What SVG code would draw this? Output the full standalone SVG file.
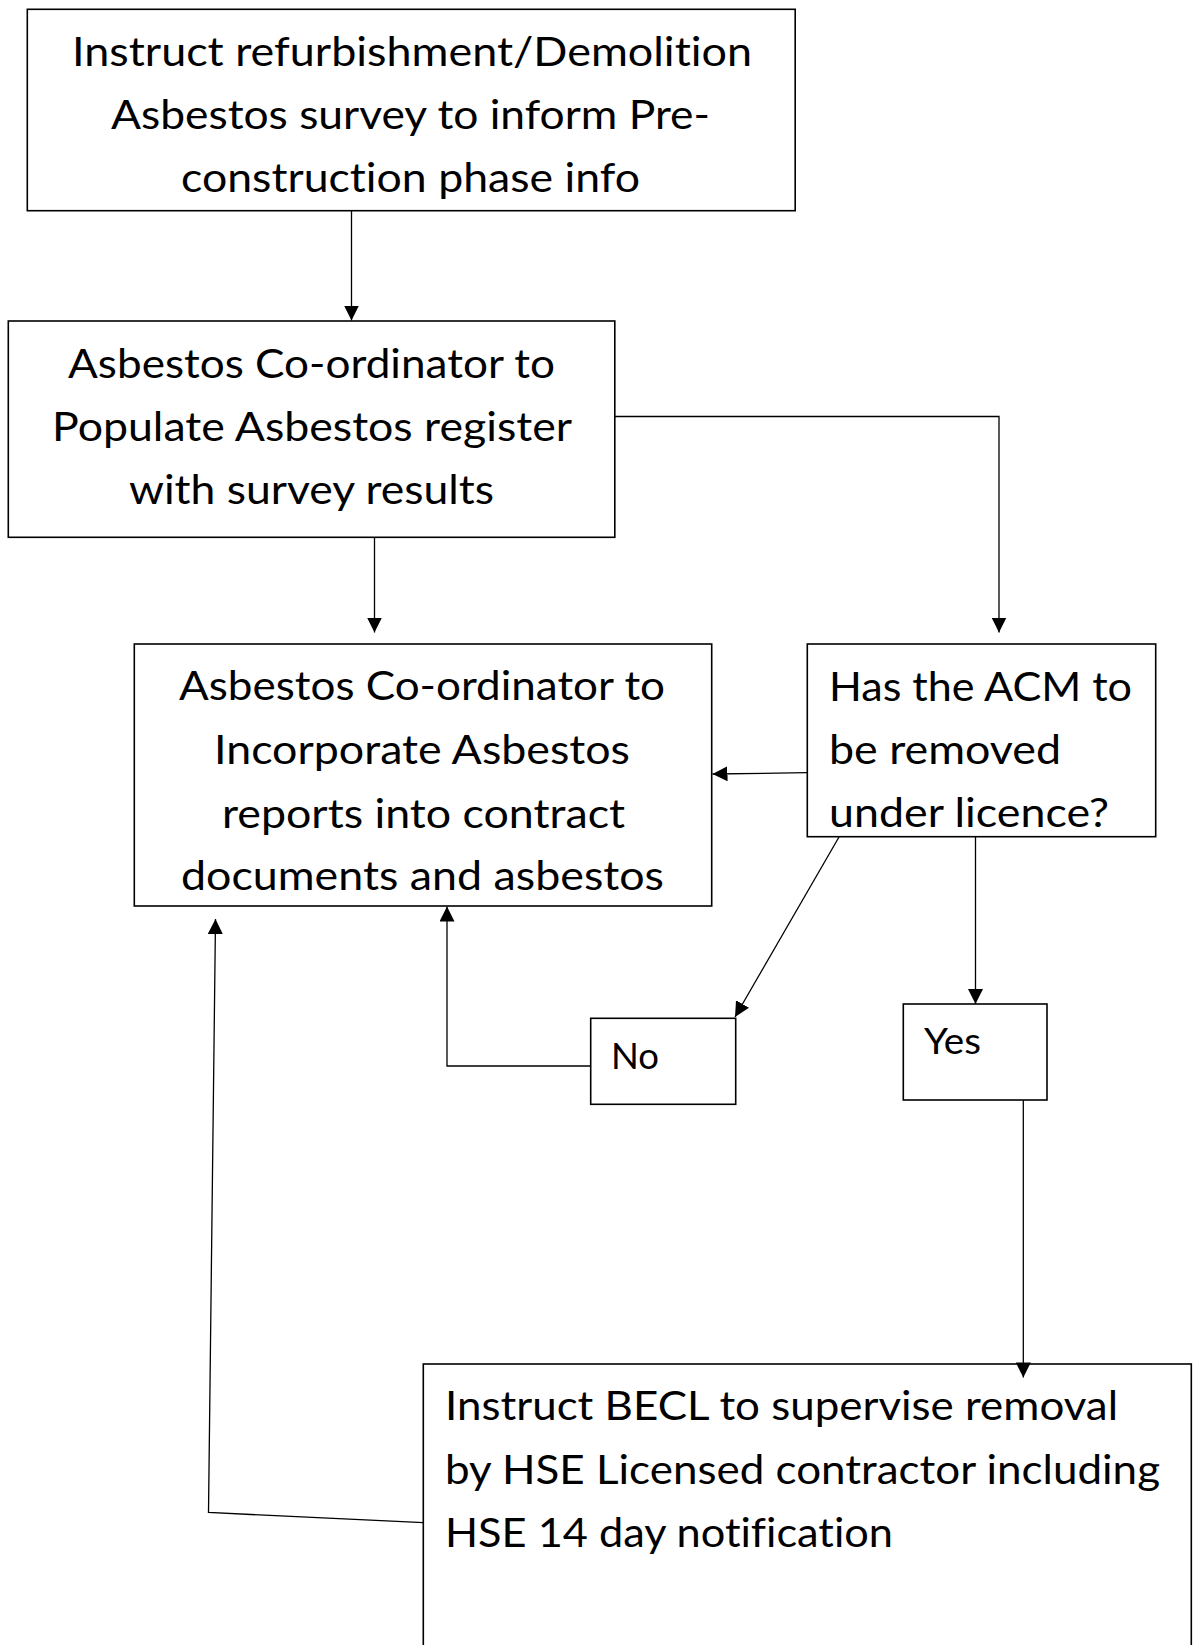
<svg xmlns="http://www.w3.org/2000/svg" width="1197" height="1645" viewBox="0 0 1197 1645">
<style>
.box{fill:#fff;stroke:#000;stroke-width:1.6}
.t{font-family:Lato,"Open Sans",sans-serif;font-size:41px;fill:#000;font-variant-ligatures:none}
.s{font-family:Lato,"Open Sans",sans-serif;font-size:36px;fill:#000;font-variant-ligatures:none}
.c{fill:none;stroke:#000;stroke-width:1.3}
.a{marker-end:url(#ah)}
</style>
<defs>
<marker id="ah" viewBox="0 0 15 15" refX="15" refY="7.5" markerWidth="15" markerHeight="15" orient="auto" markerUnits="userSpaceOnUse">
<path d="M0,0 L15,7.5 L0,15 z" fill="#000"/>
</marker>
<clipPath id="dclip"><rect x="807" y="644" width="349" height="184"/></clipPath>
</defs>
<rect width="1197" height="1645" fill="#fff"/>

<g id="connectors">
<path class="c a" d="M351.5,211 V320.5"/>
<path class="c a" d="M615,416.5 H999 V632.5"/>
<path class="c a" d="M374.5,537.5 V632.5"/>
<path class="c a" d="M807,772.7 L712.5,774"/>
<path class="c a" d="M839.3,836.5 L735,1017"/>
<path class="c a" d="M590.7,1066 H447 V906.5"/>
<path class="c a" d="M975.5,836.7 V1004"/>
<path class="c a" d="M1023.3,1091 V1377.5"/>
<path class="c a" d="M423.3,1522.7 L208.5,1512.5 L215.5,919"/>
</g>

<g id="n1">
<rect class="box" x="27.3" y="9.3" width="767.9" height="201.4"/>
<text class="t" x="72" y="66" textLength="680" lengthAdjust="spacingAndGlyphs">Instruct refurbishment/Demolition</text>
<text class="t" x="111" y="128.5" textLength="599" lengthAdjust="spacingAndGlyphs">Asbestos survey to inform Pre-</text>
<text class="t" x="181" y="191.7" textLength="459" lengthAdjust="spacingAndGlyphs">construction phase info</text>
</g>

<g id="n2">
<rect class="box" x="8.3" y="321" width="606.5" height="216.3"/>
<text class="t" x="68" y="378" textLength="487" lengthAdjust="spacingAndGlyphs">Asbestos Co-ordinator to</text>
<text class="t" x="52" y="440.5" textLength="520" lengthAdjust="spacingAndGlyphs">Populate Asbestos register</text>
<text class="t" x="129" y="503.5" textLength="365" lengthAdjust="spacingAndGlyphs">with survey results</text>
</g>

<g id="n3">
<rect class="box" x="134.3" y="644" width="577.4" height="262"/>
<text class="t" x="179" y="700" textLength="486" lengthAdjust="spacingAndGlyphs">Asbestos Co-ordinator to</text>
<text class="t" x="214" y="764" textLength="416" lengthAdjust="spacingAndGlyphs">Incorporate Asbestos</text>
<text class="t" x="222" y="827.5" textLength="403" lengthAdjust="spacingAndGlyphs">reports into contract</text>
<text class="t" x="181" y="890" textLength="483" lengthAdjust="spacingAndGlyphs">documents and asbestos</text>
</g>

<g id="n4">
<rect class="box" x="807.3" y="644" width="348.4" height="192.7"/>
<g clip-path="url(#dclip)">
<text class="t" x="829" y="700.7" textLength="303" lengthAdjust="spacingAndGlyphs">Has the ACM to</text>
<text class="t" x="829" y="764.3" textLength="232" lengthAdjust="spacingAndGlyphs">be removed</text>
<text class="t" x="829" y="827" textLength="280" lengthAdjust="spacingAndGlyphs">under licence?</text>
</g>
</g>

<g id="n5">
<rect class="box" x="590.7" y="1018.3" width="145" height="86"/>
<text class="s" x="611" y="1069" textLength="48" lengthAdjust="spacingAndGlyphs">No</text>
</g>

<g id="n6">
<rect class="box" x="903.3" y="1004" width="143.7" height="96"/>
<text class="s" x="924" y="1054" textLength="57" lengthAdjust="spacingAndGlyphs">Yes</text>
</g>

<g id="n7">
<rect class="box" x="423.3" y="1364" width="768" height="300"/>
<text class="t" x="445" y="1420" textLength="673" lengthAdjust="spacingAndGlyphs">Instruct BECL to supervise removal</text>
<text class="t" x="445" y="1483.5" textLength="715" lengthAdjust="spacingAndGlyphs">by HSE Licensed contractor including</text>
<text class="t" x="445" y="1547" textLength="448" lengthAdjust="spacingAndGlyphs">HSE 14 day notification</text>
</g>
<path class="c" d="M1023.3,1364 V1377.5"/>
<path d="M1015.8,1362.5 L1023.3,1377.5 L1030.8,1362.5 z" fill="#000"/>
</svg>
